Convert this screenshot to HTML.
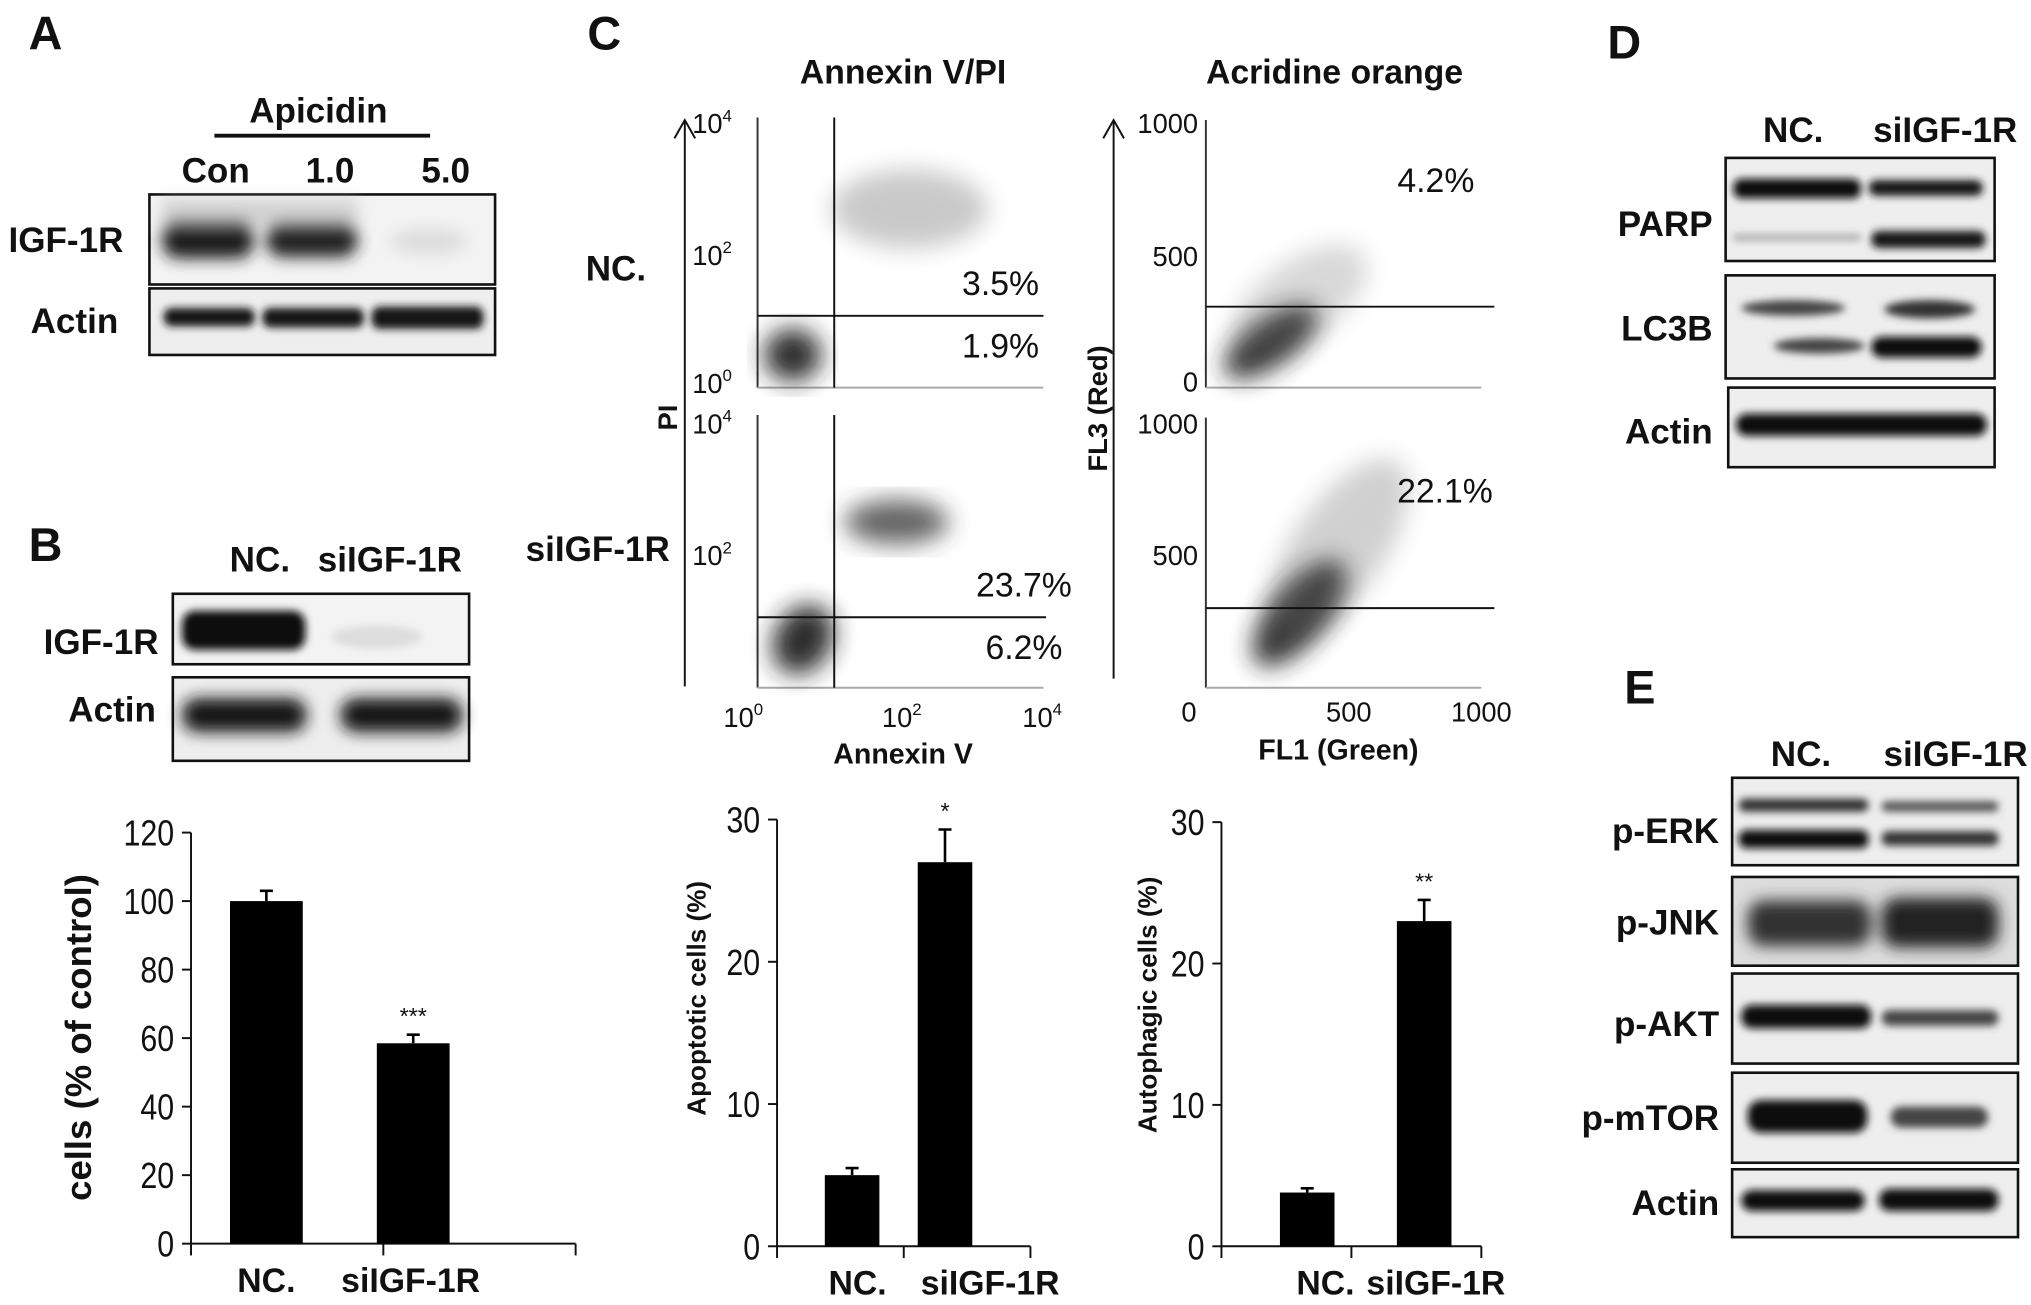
<!DOCTYPE html>
<html><head><meta charset="utf-8">
<style>
html,body{margin:0;padding:0;background:#fff;}
svg{display:block;}
text{font-family:"Liberation Sans",Arial,sans-serif;fill:#111;}
.b{font-weight:bold;}
</style></head>
<body>
<svg id="fig" width="2031" height="1305" viewBox="0 0 1563 1000" preserveAspectRatio="none" xmlns="http://www.w3.org/2000/svg">
<defs>
<filter id="bl" x="-20%" y="-50%" width="140%" height="200%"><feGaussianBlur stdDeviation="3"/></filter>
<filter id="bl2" x="-30%" y="-60%" width="160%" height="220%"><feGaussianBlur stdDeviation="6"/></filter>
<filter id="bl3" x="-30%" y="-30%" width="160%" height="160%"><feGaussianBlur stdDeviation="9"/></filter>
</defs>

<!-- Panel A -->
<g>
<text class="b" x="22" y="38" font-size="36">A</text>
<text class="b" x="245" y="94" font-size="27" text-anchor="middle">Apicidin</text>
<line x1="165" y1="104" x2="331" y2="104" stroke="#111" stroke-width="3"/>
<text class="b" x="166" y="140" font-size="27" text-anchor="middle">Con</text>
<text class="b" x="254" y="140" font-size="27" text-anchor="middle">1.0</text>
<text class="b" x="343" y="140" font-size="27" text-anchor="middle">5.0</text>
<text class="b" x="95" y="193" font-size="27" text-anchor="end">IGF-1R</text>
<rect x="115" y="149" width="266" height="69" fill="#f3f3f3" stroke="#111" stroke-width="2"/>
<g filter="url(#bl2)">
<rect x="125" y="168" width="70" height="30" rx="12" fill="#1a1a1a"/>
<rect x="205" y="170" width="70" height="27" rx="12" fill="#222"/>
<rect x="125" y="153" width="150" height="20" fill="#bbb" opacity="0.6"/>
<ellipse cx="330" cy="185" rx="30" ry="10" fill="#ddd"/>
</g>
<text class="b" x="91" y="255" font-size="27" text-anchor="end">Actin</text>
<rect x="115" y="221" width="266" height="51" fill="#eee" stroke="#111" stroke-width="2"/>
<g filter="url(#bl)">
<rect x="126" y="236" width="70" height="14" rx="6" fill="#151515"/>
<rect x="202" y="236" width="78" height="15" rx="6" fill="#151515"/>
<rect x="286" y="235" width="86" height="17" rx="6" fill="#151515"/>
</g>
</g>

<!-- Panel B blots -->
<g>
<text class="b" x="22" y="430" font-size="36">B</text>
<text class="b" x="200" y="438" font-size="27" text-anchor="middle">NC.</text>
<text class="b" x="300" y="438" font-size="27" text-anchor="middle">siIGF-1R</text>
<text class="b" x="122" y="501" font-size="27" text-anchor="end">IGF-1R</text>
<rect x="133" y="455" width="228" height="54" fill="#f3f3f3" stroke="#111" stroke-width="2"/>
<g filter="url(#bl)">
<rect x="140" y="468" width="95" height="30" rx="10" fill="#111"/>
<ellipse cx="290" cy="488" rx="35" ry="9" fill="#ddd"/>
</g>
<text class="b" x="120" y="553" font-size="27" text-anchor="end">Actin</text>
<rect x="133" y="519" width="228" height="64" fill="#eee" stroke="#111" stroke-width="2"/>
<g filter="url(#bl2)">
<rect x="140" y="535" width="96" height="26" rx="12" fill="#151515"/>
<rect x="262" y="535" width="94" height="26" rx="12" fill="#151515"/>
</g>
</g>

<!-- Panel C flow plots -->
<g>
<text class="b" x="452" y="38" font-size="36">C</text>
<text class="b" x="695" y="64" font-size="26" text-anchor="middle">Annexin V/PI</text>
<text class="b" x="1027" y="64" font-size="26" text-anchor="middle">Acridine orange</text>
<text class="b" x="474" y="215" font-size="27" text-anchor="middle">NC.</text>
<text class="b" x="460" y="430" font-size="27" text-anchor="middle">siIGF-1R</text>

<line x1="527" y1="526" x2="527" y2="92" stroke="#111" stroke-width="1.5"/>
<polyline points="519,106 527,92 535,106" fill="none" stroke="#111" stroke-width="1.5"/>
<text class="b" x="0" y="0" font-size="21" transform="translate(521,320) rotate(-90)" text-anchor="middle">PI</text>
<g>
<line x1="583" y1="90" x2="583" y2="297" stroke="#333" stroke-width="1.5"/>
<line x1="583" y1="297" x2="803" y2="297" stroke="#aaa" stroke-width="1.5"/>
<g filter="url(#bl3)" opacity="0.95"><ellipse cx="610" cy="272" rx="22" ry="20" fill="#222"/></g>
<g filter="url(#bl3)" opacity="0.35"><ellipse cx="700" cy="160" rx="60" ry="30" fill="#666"/></g>
<line x1="642" y1="90" x2="642" y2="297" stroke="#111" stroke-width="1.5"/>
<line x1="583" y1="242" x2="803" y2="242" stroke="#111" stroke-width="1.5"/>
</g>
<g>
<line x1="583" y1="318" x2="583" y2="527" stroke="#333" stroke-width="1.5"/>
<line x1="583" y1="527" x2="803" y2="527" stroke="#aaa" stroke-width="1.5"/>
<g filter="url(#bl3)" opacity="0.95"><ellipse cx="618" cy="490" rx="22" ry="28" fill="#222" transform="rotate(30 618 490)"/></g>
<g filter="url(#bl3)" opacity="0.75"><ellipse cx="690" cy="400" rx="40" ry="17" fill="#333"/></g>
<line x1="642" y1="318" x2="642" y2="527" stroke="#111" stroke-width="1.5"/>
<line x1="583" y1="473" x2="805" y2="473" stroke="#111" stroke-width="1.5"/>
</g>
<g font-size="21">
<text x="548" y="102" text-anchor="middle">10<tspan dy="-9" font-size="13">4</tspan></text>
<text x="548" y="203" text-anchor="middle">10<tspan dy="-9" font-size="13">2</tspan></text>
<text x="548" y="301" text-anchor="middle">10<tspan dy="-9" font-size="13">0</tspan></text>
<text x="548" y="332" text-anchor="middle">10<tspan dy="-9" font-size="13">4</tspan></text>
<text x="548" y="433" text-anchor="middle">10<tspan dy="-9" font-size="13">2</tspan></text>
</g>
<g font-size="21">
<text x="572" y="557" text-anchor="middle">10<tspan dy="-9" font-size="13">0</tspan></text>
<text x="694" y="557" text-anchor="middle">10<tspan dy="-9" font-size="13">2</tspan></text>
<text x="802" y="557" text-anchor="middle">10<tspan dy="-9" font-size="13">4</tspan></text>
</g>
<text class="b" x="695" y="585" font-size="22" text-anchor="middle">Annexin V</text>
<g font-size="26">
<text x="770" y="226" text-anchor="middle">3.5%</text>
<text x="770" y="274" text-anchor="middle">1.9%</text>
<text x="788" y="457" text-anchor="middle">23.7%</text>
<text x="788" y="505" text-anchor="middle">6.2%</text>
</g>

<line x1="857" y1="520" x2="857" y2="92" stroke="#111" stroke-width="1.5"/>
<polyline points="849,106 857,92 865,106" fill="none" stroke="#111" stroke-width="1.5"/>
<text class="b" x="0" y="0" font-size="21" transform="translate(852,313) rotate(-90)" text-anchor="middle">FL3 (Red)</text>
<g>
<line x1="928" y1="92" x2="928" y2="297" stroke="#333" stroke-width="1.5"/>
<line x1="928" y1="297" x2="1140" y2="297" stroke="#aaa" stroke-width="1.5"/>
<g filter="url(#bl3)" opacity="0.9"><ellipse cx="978" cy="262" rx="42" ry="18" fill="#222" transform="rotate(-35 978 262)"/></g>
<g filter="url(#bl3)" opacity="0.25"><ellipse cx="1000" cy="230" rx="60" ry="30" fill="#666" transform="rotate(-35 1000 230)"/></g>
<line x1="928" y1="235" x2="1150" y2="235" stroke="#111" stroke-width="1.5"/>
</g>
<g>
<line x1="928" y1="320" x2="928" y2="527" stroke="#333" stroke-width="1.5"/>
<line x1="928" y1="527" x2="1140" y2="527" stroke="#aaa" stroke-width="1.5"/>
<g filter="url(#bl3)" opacity="0.9"><ellipse cx="1000" cy="470" rx="50" ry="22" fill="#222" transform="rotate(-50 1000 470)"/></g>
<g filter="url(#bl3)" opacity="0.3"><ellipse cx="1030" cy="420" rx="80" ry="35" fill="#666" transform="rotate(-55 1030 420)"/></g>
<line x1="928" y1="466" x2="1150" y2="466" stroke="#111" stroke-width="1.5"/>
</g>
<g font-size="21" text-anchor="end">
<text x="922" y="102">1000</text>
<text x="922" y="204">500</text>
<text x="922" y="300">0</text>
<text x="922" y="332">1000</text>
<text x="922" y="433">500</text>
</g>
<g font-size="21" text-anchor="middle">
<text x="915" y="553">0</text>
<text x="1038" y="553">500</text>
<text x="1140" y="553">1000</text>
</g>
<text class="b" x="1030" y="582" font-size="22" text-anchor="middle">FL1 (Green)</text>
<g font-size="26" text-anchor="middle">
<text x="1105" y="147">4.2%</text>
<text x="1112" y="385">22.1%</text>
</g>
</g>

<g id="charts"></g>

<!-- Panel D -->
<g>
<text class="b" x="1237" y="45" font-size="36">D</text>
<text class="b" x="1380" y="109" font-size="27" text-anchor="middle">NC.</text>
<text class="b" x="1497" y="109" font-size="27" text-anchor="middle">siIGF-1R</text>
<text class="b" x="1318" y="181" font-size="27" text-anchor="end">PARP</text>
<rect x="1328" y="121" width="207" height="79" fill="#eee" stroke="#111" stroke-width="2"/>
<g filter="url(#bl)">
<rect x="1334" y="137" width="98" height="15" rx="6" fill="#111"/>
<rect x="1438" y="138" width="88" height="12" rx="6" fill="#151515"/>
<rect x="1440" y="177" width="88" height="13" rx="6" fill="#151515"/>
<rect x="1334" y="180" width="98" height="4" fill="#999"/>
</g>
<text class="b" x="1318" y="261" font-size="27" text-anchor="end">LC3B</text>
<rect x="1328" y="211" width="207" height="79" fill="#eee" stroke="#111" stroke-width="2"/>
<g filter="url(#bl)">
<ellipse cx="1380" cy="236" rx="40" ry="6" fill="#444"/>
<ellipse cx="1485" cy="237" rx="35" ry="7" fill="#333"/>
<ellipse cx="1400" cy="265" rx="35" ry="6" fill="#444"/>
<rect x="1440" y="258" width="85" height="16" rx="8" fill="#111"/>
</g>
<text class="b" x="1318" y="340" font-size="27" text-anchor="end">Actin</text>
<rect x="1330" y="297" width="205" height="61" fill="#eee" stroke="#111" stroke-width="2"/>
<g filter="url(#bl)">
<rect x="1336" y="317" width="193" height="17" rx="8" fill="#111"/>
</g>
</g>

<!-- Panel E -->
<g>
<text class="b" x="1250" y="539" font-size="36">E</text>
<text class="b" x="1386" y="587" font-size="27" text-anchor="middle">NC.</text>
<text class="b" x="1505" y="587" font-size="27" text-anchor="middle">siIGF-1R</text>
<text class="b" x="1323" y="646" font-size="27" text-anchor="end">p-ERK</text>
<rect x="1333" y="596" width="220" height="67" fill="#eee" stroke="#111" stroke-width="2"/>
<g filter="url(#bl)">
<rect x="1338" y="612" width="100" height="10" rx="5" fill="#333"/>
<rect x="1338" y="636" width="100" height="14" rx="6" fill="#111"/>
<rect x="1448" y="614" width="90" height="8" rx="4" fill="#555"/>
<rect x="1448" y="637" width="90" height="11" rx="5" fill="#333"/>
</g>
<text class="b" x="1323" y="716" font-size="27" text-anchor="end">p-JNK</text>
<rect x="1333" y="672" width="220" height="68" fill="#ddd" stroke="#111" stroke-width="2"/>
<g filter="url(#bl2)">
<rect x="1345" y="690" width="95" height="35" rx="12" fill="#333"/>
<rect x="1448" y="688" width="90" height="38" rx="12" fill="#222"/>
</g>
<text class="b" x="1323" y="794" font-size="27" text-anchor="end">p-AKT</text>
<rect x="1333" y="746" width="220" height="69" fill="#eee" stroke="#111" stroke-width="2"/>
<g filter="url(#bl)">
<rect x="1340" y="770" width="100" height="18" rx="8" fill="#111"/>
<rect x="1448" y="774" width="90" height="12" rx="6" fill="#444"/>
</g>
<text class="b" x="1323" y="866" font-size="27" text-anchor="end">p-mTOR</text>
<rect x="1333" y="822" width="220" height="69" fill="#eee" stroke="#111" stroke-width="2"/>
<g filter="url(#bl)">
<rect x="1345" y="843" width="92" height="25" rx="10" fill="#111"/>
<rect x="1455" y="848" width="75" height="16" rx="8" fill="#444"/>
</g>
<text class="b" x="1323" y="931" font-size="27" text-anchor="end">Actin</text>
<rect x="1333" y="896" width="220" height="52" fill="#eee" stroke="#111" stroke-width="2"/>
<g filter="url(#bl)">
<rect x="1340" y="912" width="95" height="16" rx="8" fill="#111"/>
<rect x="1446" y="911" width="92" height="17" rx="8" fill="#111"/>
</g>
</g>
</svg>

<script>
// Chart B: cell viability
const viabCategories = ["NC.", "siIGF-1R"];
const viabValues = [100, 58.5];
const viabErrors = [3, 2.5];
const viabTicks = [0, 20, 40, 60, 80, 100, 120];
const viabSig = ["", "***"];
// Chart C1: apoptotic cells
const apopCategories = ["NC.", "siIGF-1R"];
const apopValues = [5, 27];
const apopErrors = [0.5, 2.3];
const apopTicks = [0, 10, 20, 30];
const apopSig = ["", "*"];
// Chart C2: autophagic cells
const autoCategories = ["NC.", "siIGF-1R"];
const autoValues = [3.8, 23];
const autoErrors = [0.3, 1.5];
const autoTicks = [0, 10, 20, 30];
const autoSig = ["", "**"];

const NS = "http://www.w3.org/2000/svg";
const root = document.getElementById("charts");
function mk(tag, attrs, parent) {
  const e = document.createElementNS(NS, tag);
  for (const k in attrs) e.setAttribute(k, attrs[k]);
  parent.appendChild(e);
  return e;
}
function drawChart(cfg) {
  const g = mk("g", {}, root);
  
  
  const yMax = cfg.ticks[cfg.ticks.length - 1];
  const y = v => cfg.y0 - v / yMax * (cfg.y0 - cfg.yTop);
  const n = cfg.cats.length;
  const bandW = (cfg.xEnd - cfg.x0) / n;
  const xc = i => cfg.x0 + bandW * (i + 0.5) + cfg.shift[i];
  mk("line", {x1: cfg.x0, y1: cfg.yTop, x2: cfg.x0, y2: cfg.y0, stroke: "#111", "stroke-width": 1.5}, g);
  mk("line", {x1: cfg.x0, y1: cfg.y0, x2: cfg.xEnd, y2: cfg.y0, stroke: "#111", "stroke-width": 1.5}, g);
  for (let i = 0; i <= n; i++) {
    const xx = cfg.x0 + bandW * i;
    mk("line", {x1: xx, y1: cfg.y0, x2: xx, y2: cfg.y0 + 9, stroke: "#111", "stroke-width": 1.5}, g);
  }
  cfg.ticks.forEach(t => {
    mk("line", {x1: cfg.x0 - 7, y1: y(t), x2: cfg.x0, y2: y(t), stroke: "#111", "stroke-width": 1.5}, g);
    const tx = mk("text", {x: cfg.x0 - 13, y: y(t) + 10, "font-size": 28, "text-anchor": "end", "textLength": String(t).length * 13, "lengthAdjust": "spacingAndGlyphs"}, g);
    tx.textContent = t;
    
    
  });
  cfg.vals.forEach((v, i) => {
    const cx = xc(i);
    const bar = mk("rect", {x: cx - cfg.bw / 2, y: y(v), width: cfg.bw, height: cfg.y0 - y(v), fill: "#000"}, g);
    
    
    const top = y(v + cfg.errs[i]);
    const eb = mk("path", {d: `M${cx},${y(v)} V${top} M${cx - 5},${top} H${cx + 5}`, stroke: "#000", "stroke-width": 2, fill: "none"}, g);
    
    
    if (cfg.sig[i]) {
      const s = mk("text", {x: cx, y: top - 8, "font-size": 18, "text-anchor": "middle"}, g);
      s.textContent = cfg.sig[i];
      
      
    }
    const lb = mk("text", {x: cfg.labelX[i], y: cfg.y0 + 37, "font-size": 26, "text-anchor": "middle", "class": "b"}, g);
    lb.textContent = cfg.cats[i];
    
    
  });
  const tt = mk("text", {x: 0, y: 0, "font-size": cfg.titleSize, "text-anchor": "middle", "class": "b", transform: `translate(${cfg.titleX},${cfg.titleY}) rotate(-90)`}, g);
  tt.textContent = cfg.title;
  
  
}
drawChart({name: "viability-chart", cats: viabCategories, vals: viabValues, errs: viabErrors, ticks: viabTicks, sig: viabSig,
  x0: 147, xEnd: 443, y0: 953, yTop: 638, bw: 56, shift: [-16, -51], labelX: [205, 316],
  title: "cells (% of control)", titleX: 70, titleY: 795, titleSize: 28});
drawChart({name: "apoptotic-chart", cats: apopCategories, vals: apopValues, errs: apopErrors, ticks: apopTicks, sig: apopSig,
  x0: 598, xEnd: 793, y0: 955, yTop: 628, bw: 42, shift: [9, -17], labelX: [660, 762],
  title: "Apoptotic cells (%)", titleX: 543, titleY: 765, titleSize: 20});
drawChart({name: "autophagic-chart", cats: autoCategories, vals: autoValues, errs: autoErrors, ticks: autoTicks, sig: autoSig,
  x0: 940, xEnd: 1140, y0: 955, yTop: 630, bw: 42, shift: [16, 6], labelX: [1020, 1105],
  title: "Autophagic cells (%)", titleX: 890, titleY: 770, titleSize: 20});
</script>
</body></html>
